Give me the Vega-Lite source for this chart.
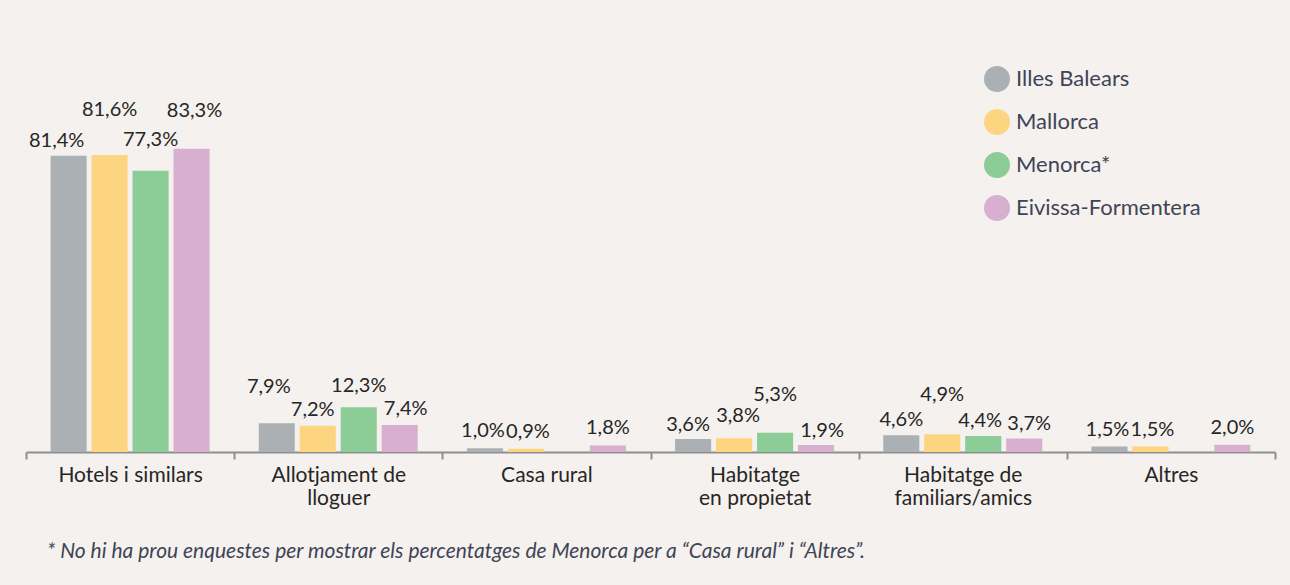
{
  "$schema": "https://vega.github.io/schema/vega-lite/v6.json",
  "width": 1249,
  "height": 364,
  "autosize": {"type": "none"},
  "padding": {"left": 26, "top": 88, "right": 15, "bottom": 133},
  "background": "#f5f1ee",
  "title": {
    "text": "* No hi ha prou enquestes per mostrar els percentatges de Menorca per a “Casa rural” i “Altres”.",
    "orient": "bottom",
    "anchor": "start",
    "frame": "group",
    "offset": 33,
    "dx": 21,
    "font": "Lato",
    "fontSize": 21,
    "fontStyle": "italic",
    "fontWeight": "normal",
    "color": "#404456"
  },
  "config": {
    "view": {"stroke": null},
    "font": "Lato",
    "locale": {"number": {"decimal": ",", "thousands": ".", "grouping": [3], "currency": ["", " €"]}}
  },
  "data": {
    "values": [
      {"cat": "Hotels i similars", "serie": "Illes Balears", "v": 0.814},
      {"cat": "Hotels i similars", "serie": "Mallorca", "v": 0.816},
      {"cat": "Hotels i similars", "serie": "Menorca*", "v": 0.773},
      {"cat": "Hotels i similars", "serie": "Eivissa-Formentera", "v": 0.833},
      {"cat": "Allotjament de|lloguer", "serie": "Illes Balears", "v": 0.079},
      {"cat": "Allotjament de|lloguer", "serie": "Mallorca", "v": 0.072},
      {"cat": "Allotjament de|lloguer", "serie": "Menorca*", "v": 0.123},
      {"cat": "Allotjament de|lloguer", "serie": "Eivissa-Formentera", "v": 0.074},
      {"cat": "Casa rural", "serie": "Illes Balears", "v": 0.010},
      {"cat": "Casa rural", "serie": "Mallorca", "v": 0.009},
      {"cat": "Casa rural", "serie": "Eivissa-Formentera", "v": 0.018},
      {"cat": "Habitatge|en propietat", "serie": "Illes Balears", "v": 0.036},
      {"cat": "Habitatge|en propietat", "serie": "Mallorca", "v": 0.038},
      {"cat": "Habitatge|en propietat", "serie": "Menorca*", "v": 0.053},
      {"cat": "Habitatge|en propietat", "serie": "Eivissa-Formentera", "v": 0.019},
      {"cat": "Habitatge de|familiars/amics", "serie": "Illes Balears", "v": 0.046},
      {"cat": "Habitatge de|familiars/amics", "serie": "Mallorca", "v": 0.049},
      {"cat": "Habitatge de|familiars/amics", "serie": "Menorca*", "v": 0.044},
      {"cat": "Habitatge de|familiars/amics", "serie": "Eivissa-Formentera", "v": 0.037},
      {"cat": "Altres", "serie": "Illes Balears", "v": 0.015},
      {"cat": "Altres", "serie": "Mallorca", "v": 0.015},
      {"cat": "Altres", "serie": "Eivissa-Formentera", "v": 0.020}
    ]
  },
  "encoding": {
    "x": {
      "field": "cat",
      "type": "nominal",
      "sort": ["Hotels i similars", "Allotjament de|lloguer", "Casa rural", "Habitatge|en propietat", "Habitatge de|familiars/amics", "Altres"],
      "scale": {"paddingInner": 0, "paddingOuter": 0},
      "axis": {
        "title": null,
        "labelAngle": 0,
        "labelExpr": "split(datum.label, '|')",
        "labelFont": "Lato",
        "labelFontSize": 21,
        "labelColor": "#262626",
        "labelLineHeight": 23,
        "labelPadding": 5,
        "tickBand": "extent",
        "tickSize": 7,
        "tickColor": "#8f8f8f",
        "tickWidth": 2,
        "domainColor": "#8f8f8f",
        "domainWidth": 2,
        "grid": false
      }
    },
    "xOffset": {
      "field": "serie",
      "type": "nominal",
      "sort": ["Illes Balears", "Mallorca", "Menorca*", "Eivissa-Formentera"],
      "scale": {"paddingInner": 0.12, "paddingOuter": 0.6}
    },
    "y": {
      "field": "v",
      "type": "quantitative",
      "scale": {"domain": [0, 1]},
      "axis": null
    }
  },
  "layer": [
    {
      "mark": {"type": "bar"},
      "encoding": {
        "color": {
          "field": "serie",
          "type": "nominal",
          "sort": ["Illes Balears", "Mallorca", "Menorca*", "Eivissa-Formentera"],
          "scale": {
            "domain": ["Illes Balears", "Mallorca", "Menorca*", "Eivissa-Formentera"],
            "range": ["#aab0b3", "#fdd47f", "#8ccc97", "#d8aed1"]
          },
          "legend": {
            "title": null,
            "orient": "none",
            "legendX": 958,
            "legendY": -22,
            "symbolType": "circle",
            "symbolSize": 676,
            "symbolStrokeWidth": 0,
            "symbolOpacity": 1,
            "labelFont": "Lato",
            "labelFontSize": 22,
            "labelColor": "#404456",
            "labelOffset": 6,
            "labelLimit": 300,
            "rowPadding": 17
          }
        }
      }
    },
    {
      "mark": {
        "type": "text",
        "baseline": "bottom",
        "fontSize": 20,
        "color": "#262626",
        "font": "Lato",
        "dy": {"expr": "datum.cat == 'Hotels i similars' ? (datum.serie == 'Illes Balears' ? -5 : datum.serie == 'Mallorca' ? -35 : datum.serie == 'Menorca*' ? -21 : -28) : datum.cat == 'Allotjament de|lloguer' ? (datum.serie == 'Illes Balears' ? -26 : datum.serie == 'Menorca*' ? -11 : -6) : datum.cat == 'Habitatge|en propietat' ? (datum.serie == 'Menorca*' ? -28 : datum.serie == 'Mallorca' ? -12 : -4) : datum.cat == 'Habitatge de|familiars/amics' ? (datum.serie == 'Mallorca' ? -29 : -5) : -7"},
        "dx": {"expr": "datum.cat == 'Hotels i similars' ? (datum.serie == 'Illes Balears' ? -12 : datum.serie == 'Eivissa-Formentera' ? 3 : 0) : datum.cat == 'Allotjament de|lloguer' ? (datum.serie == 'Illes Balears' ? -8 : datum.serie == 'Mallorca' ? -5 : datum.serie == 'Eivissa-Formentera' ? 6 : 0) : datum.cat == 'Habitatge|en propietat' ? (datum.serie == 'Illes Balears' ? -5 : datum.serie == 'Mallorca' ? 4 : datum.serie == 'Eivissa-Formentera' ? 6 : 0) : datum.cat == 'Habitatge de|familiars/amics' ? (datum.serie == 'Menorca*' ? -3 : datum.serie == 'Eivissa-Formentera' ? 5 : 0) : (datum.serie == 'Illes Balears' ? -2 : datum.serie == 'Mallorca' ? 2 : 0)"}
      },
      "encoding": {"text": {"field": "v", "type": "quantitative", "format": ".1%"}}
    }
  ]
}
